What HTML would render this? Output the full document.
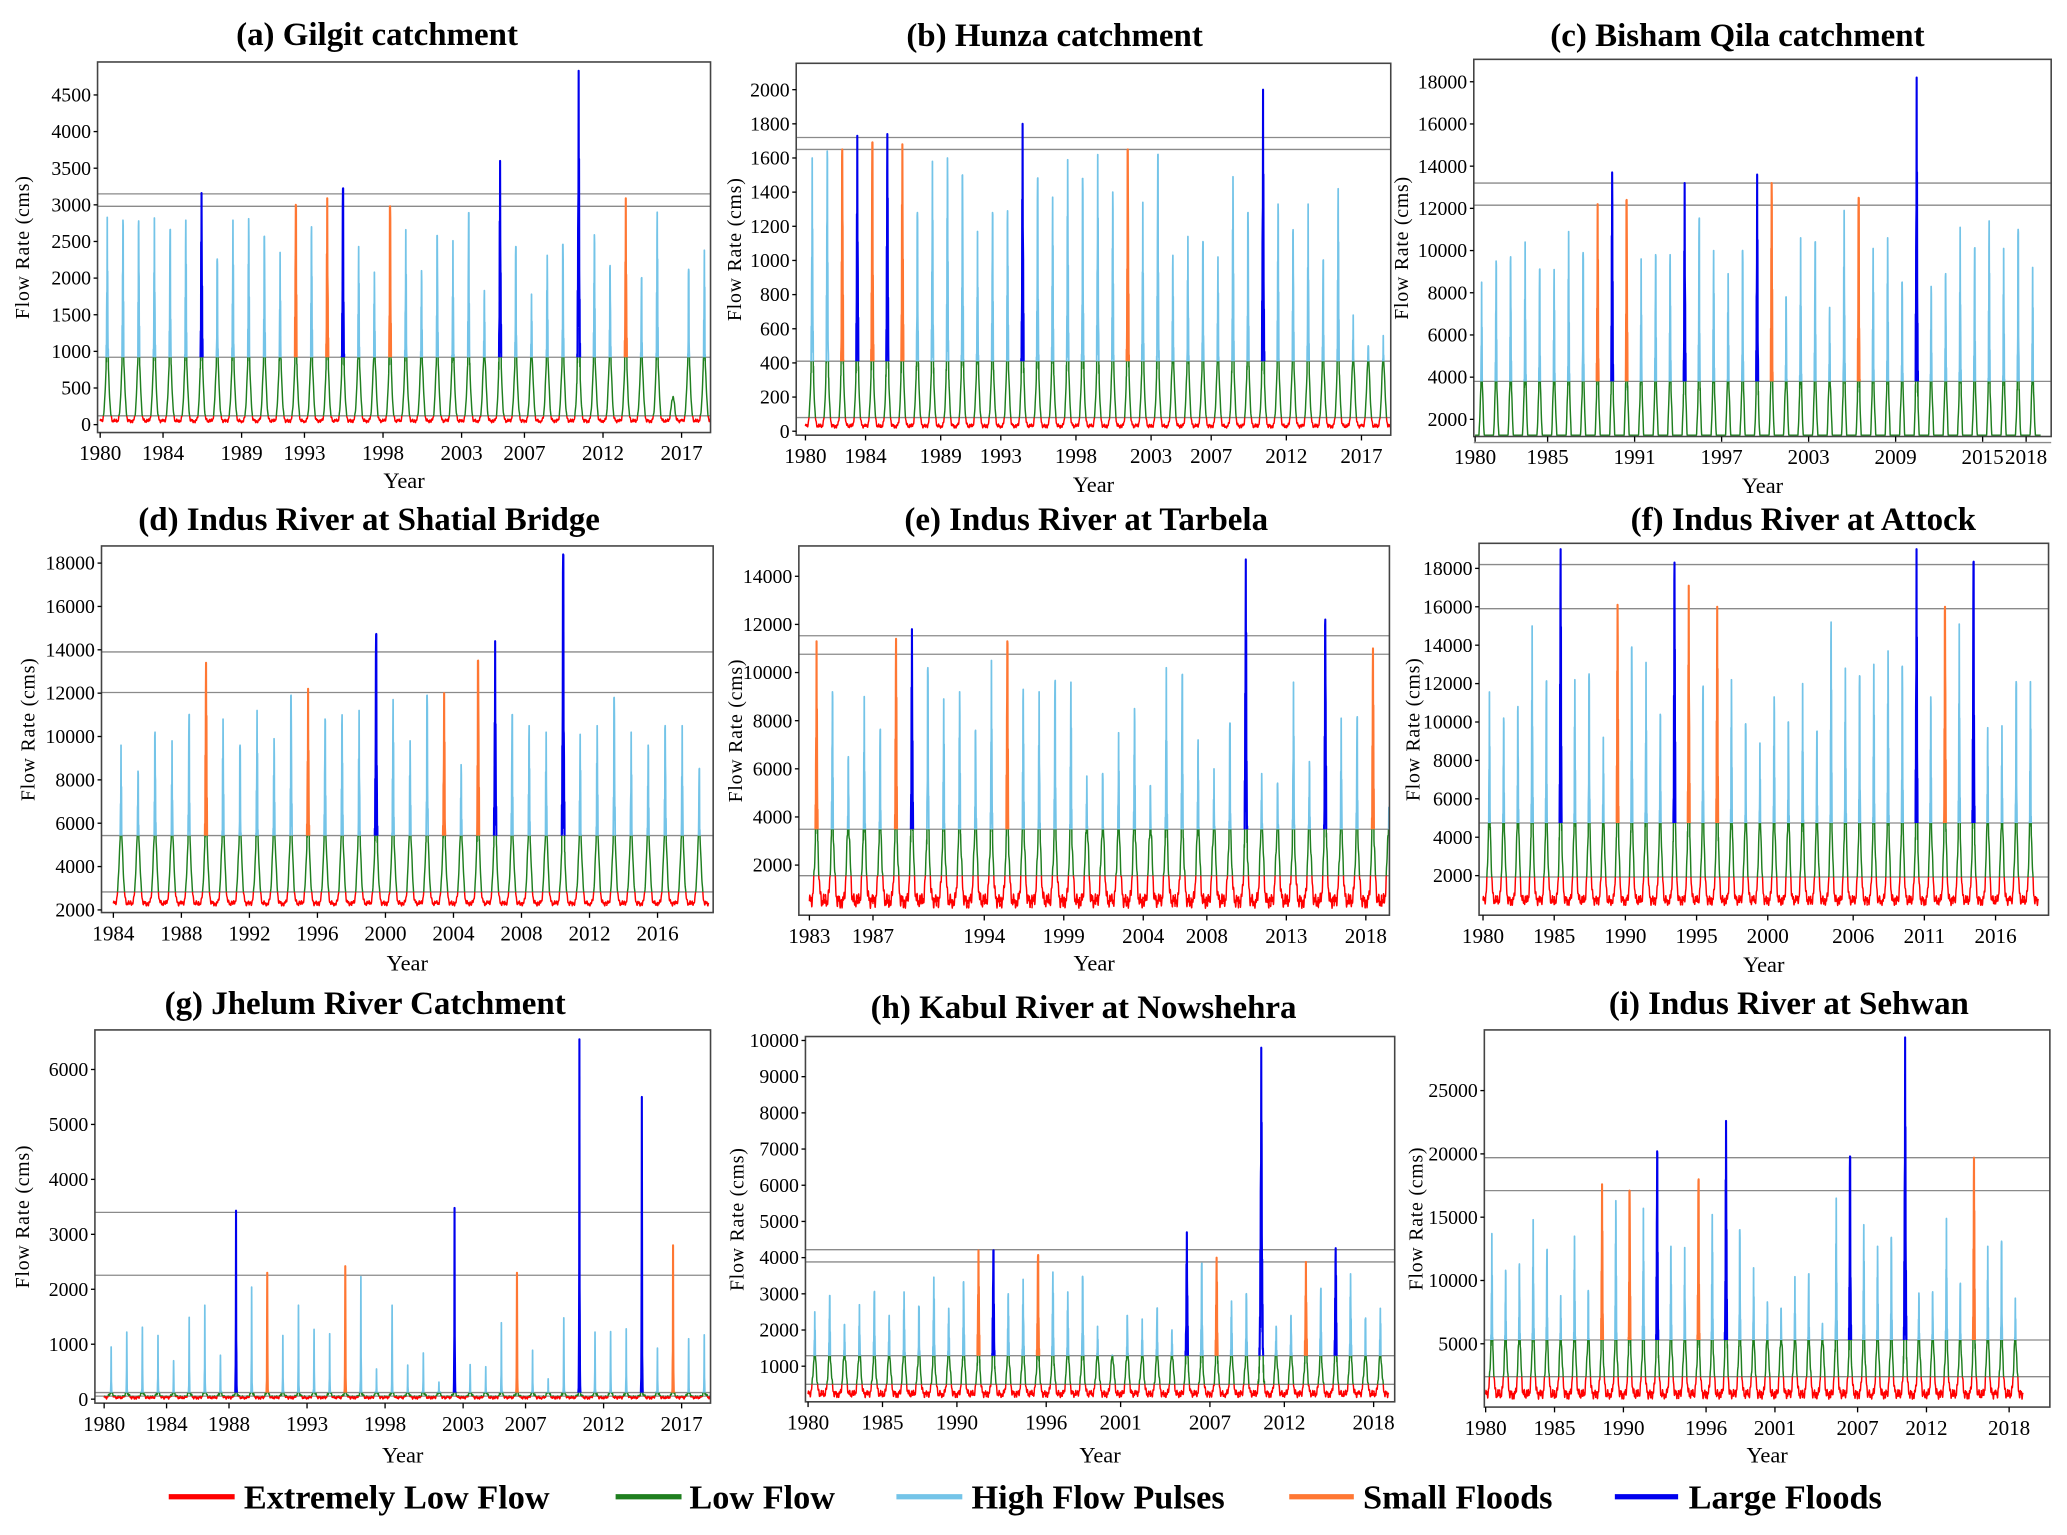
<!DOCTYPE html>
<html><head><meta charset="utf-8"><title>Flow regimes</title>
<style>
html,body{margin:0;padding:0;background:#fff;}
svg{display:block;}
text{font-family:"Liberation Serif",serif;fill:#000;}
</style></head>
<body>
<svg id="fig" xmlns="http://www.w3.org/2000/svg" width="2067" height="1535" viewBox="0 0 1568 1164" preserveAspectRatio="none">
<g id="legend">
 <g><line x1="128" y1="1135" x2="178" y2="1135" stroke="#ff0000" stroke-width="4"/><text x="185" y="1144" font-size="26" font-weight="bold">Extremely Low Flow</text></g>
 <g><line x1="467" y1="1135" x2="517" y2="1135" stroke="#1f7f1f" stroke-width="4"/><text x="523" y="1144" font-size="26" font-weight="bold">Low Flow</text></g>
 <g><line x1="680" y1="1135" x2="730" y2="1135" stroke="#74c4e8" stroke-width="4"/><text x="737" y="1144" font-size="26" font-weight="bold">High Flow Pulses</text></g>
 <g><line x1="978" y1="1135" x2="1027" y2="1135" stroke="#ff7733" stroke-width="4"/><text x="1034" y="1144" font-size="26" font-weight="bold">Small Floods</text></g>
 <g><line x1="1225" y1="1135" x2="1273" y2="1135" stroke="#0000ee" stroke-width="4"/><text x="1281" y="1144" font-size="26" font-weight="bold">Large Floods</text></g>
</g>
</svg>
<script>
// ---------- data (annual peak flows, cms; types: h=high pulse, s=small flood, l=large flood) ----------
const aPeaks=[2830,2790,2780,2820,2660,2790,3160,2260,2790,2810,2570,2350,3000,2700,3090,3220,2430,2080,2980,2660,2100,2580,2510,2890,1830,3600,2430,1780,2310,2460,4830,2590,2170,3090,2000,2900,380,2120,2380];
const aTypes="hhhhhhlhhhhhshslhhshhhhhhlhhhhlhhshhhhh";
const aThr=[3150,2980,920,120];
const aYTicks=[0,500,1000,1500,2000,2500,3000,3500,4000,4500];
const aXTicks=[1980,1984,1989,1993,1998,2003,2007,2012,2017];

const bPeaks=[1600,1640,1650,1730,1690,1740,1680,1280,1580,1600,1500,1170,1280,1290,1800,1480,1370,1590,1480,1620,1400,1650,1340,1620,1030,1140,1110,1020,1490,1280,2000,1330,1180,1330,1000,1420,680,500,560];
const bTypes="hhslslshhhhhhhlhhhhhhshhhhhhhhlhhhhhhhh";
const bThr=[1720,1650,410,80];
const bYTicks=[0,200,400,600,800,1000,1200,1400,1600,1800,2000];
const bXTicks=[1980,1984,1989,1993,1998,2003,2007,2012,2017];

const cPeaks=[8500,9500,9700,10400,9100,9100,10900,9900,12200,13700,12400,9600,9800,9800,13200,11500,10000,8900,10000,13600,13200,7800,10600,10400,7300,11900,12500,10100,10600,8500,18200,8300,8900,11100,10100,11400,10100,11000,9200];
const cTypes="hhhhhhhhslshhhlhhhhlshhhhhshhhlhhhhhhhh";
const cThr=[13200,12150,3800,900];
const cYTicks=[2000,4000,6000,8000,10000,12000,14000,16000,18000];
const cXTicks=[1980,1985,1991,1997,2003,2009,2015,2018];

const dPeaks=[9600,8400,10200,9800,11000,13400,10800,9600,11200,9900,11900,12200,10800,11000,11200,14700,11700,9800,11900,12000,8700,13500,14400,11000,10500,10200,18400,10100,10500,11800,10200,9600,10500,10500,8500];
const dTypes="hhhhhshhhhhshhhlhhhshslhhhlhhhhhhhh";
const dThr=[13900,12030,5430,2830];
const dYTicks=[2000,4000,6000,8000,10000,12000,14000,16000,18000];
const dXTicks=[1984,1988,1992,1996,2000,2004,2008,2012,2016];

const ePeaks=[11300,9200,6500,9000,7600,11400,11800,10200,8900,9200,7600,10500,11300,9300,9200,9600,9600,5700,5800,7500,8500,5300,10200,9900,7200,6000,7900,14700,5800,5400,9600,6300,12200,8100,8100,11000,4400];
const eTypes="shhhhslhhhhhshhhhhhhhhhhhhhlhhhhlhhsh";
const eThr=[11530,10760,3490,1560];
const eYTicks=[2000,4000,6000,8000,10000,12000,14000];
const eXTicks=[1983,1987,1994,1999,2004,2008,2013,2018];

const fPeaks=[11560,10200,10800,15000,12100,19000,12200,12500,9200,16100,13900,13100,10400,18300,17100,11800,16000,12200,9900,8900,11300,10000,12000,9500,15200,12800,12400,13000,13700,12900,19000,11300,16000,15100,18300,9700,9800,12100,12100];
const fTypes="hhhhhlhhhshhhlshshhhhhhhhhhhhhlhshlhhhh";
const fThr=[18200,15900,4740,1930];
const fYTicks=[2000,4000,6000,8000,10000,12000,14000,16000,18000];
const fXTicks=[1980,1985,1990,1995,2000,2006,2011,2016];

const gPeaks=[950,1220,1310,1160,700,1490,1710,800,3430,2040,2300,1160,1710,1270,1190,2420,2230,550,1710,620,840,310,3480,630,590,1390,2300,890,370,1480,6550,1220,1230,1280,5500,930,2800,1100,1170];
const gTypes="hhhhhhhhlhshhhhshhhhhhlhhhshhhlhhhlhshh";
const gThr=[3400,2255,120,55];
const gYTicks=[0,1000,2000,3000,4000,5000,6000];
const gXTicks=[1980,1984,1988,1993,1998,2003,2007,2012,2017];

const hPeaks=[2500,2950,2150,2700,3050,2400,3050,2650,3460,2600,3330,4200,4200,3000,3400,4050,3600,3050,3480,2100,1300,2400,2300,2600,2000,4700,3840,4000,2800,3000,9800,2100,2400,3880,3130,4260,3550,2300,2600];
const hTypes="hhhhhhhhhhhslhhshhhhhhhhhlhshhlhhshlhhh";
const hThr=[4220,3880,1290,500];
const hYTicks=[1000,2000,3000,4000,5000,6000,7000,8000,9000,10000];
const hXTicks=[1980,1985,1990,1996,2001,2007,2012,2018];

const iPeaks=[13700,10800,11300,14800,12400,8800,13500,9200,17600,16300,17100,15700,20200,12700,12600,17900,15200,22600,14000,11000,8300,7800,10300,10500,6600,16500,19800,14400,12700,13400,29200,9000,9100,14900,9700,19700,12700,13100,8600];
const iTypes="hhhhhhhhshshlhhshlhhhhhhhhlhhhlhhhhshhh";
const iThr=[19700,17100,5300,2400];
const iYTicks=[5000,10000,15000,20000,25000];
const iXTicks=[1980,1985,1990,1996,2001,2007,2012,2018];

// ---------- layout / style (preview units) ----------
const panels=[
 {id:'a',title:'(a) Gilgit catchment',tx:286,ty:34,box:[74,47,539,328],yr:[0,322,4500,72],xr:[1980,76,11.92],start:1980,peaks:aPeaks,types:aTypes,thr:aThr,yt:aYTicks,xt:aXTicks,base:50,noise:25,yl:22,yearY:370,sw:0.05},
 {id:'b',title:'(b) Hunza catchment',tx:800,ty:35,box:[604,48,1055,330],yr:[0,327,2000,68],xr:[1980,611,11.4],start:1980,peaks:bPeaks,types:bTypes,thr:bThr,yt:bYTicks,xt:bXTicks,base:30,noise:12,yl:562,yearY:373,sw:0.05},
 {id:'c',title:'(c) Bisham Qila catchment',tx:1318,ty:35,box:[1118,45,1556,331],yr:[2000,318,18000,62],xr:[1980,1119,11.0],start:1980,peaks:cPeaks,types:cTypes,thr:cThr,yt:cYTicks,xt:cXTicks,base:350,noise:150,yl:1068,yearY:374,sw:0.05},
 {id:'d',title:'(d) Indus River at Shatial Bridge',tx:280,ty:402,box:[77,414,541,692],yr:[2000,690,18000,427],xr:[1984,86,12.9],start:1984,peaks:dPeaks,types:dTypes,thr:dThr,yt:dYTicks,xt:dXTicks,base:2300,noise:120,yl:26,yearY:736,sw:0.05},
 {id:'e',title:'(e) Indus River at Tarbela',tx:824,ty:402,box:[606,414,1054,694],yr:[2000,656,14000,437],xr:[1983,614,12.06],start:1983,peaks:ePeaks,types:eTypes,thr:eThr,yt:eYTicks,xt:eXTicks,base:500,noise:300,yl:563,yearY:736,sw:0.05},
 {id:'f',title:'(f) Indus River at Attock',tx:1368,ty:402,box:[1122,412,1554,694],yr:[2000,664,18000,431],xr:[1980,1125,10.8],start:1980,peaks:fPeaks,types:fTypes,thr:fThr,yt:fYTicks,xt:fXTicks,base:700,noise:260,yl:1077,yearY:737,sw:0.05},
 {id:'g',title:'(g) Jhelum River Catchment',tx:277,ty:769,box:[72,781,539,1064],yr:[0,1061,6000,811],xr:[1980,79,11.84],start:1980,peaks:gPeaks,types:gTypes,thr:gThr,yt:gYTicks,xt:gXTicks,base:30,noise:30,yl:22,yearY:1109,sw:0.015},
 {id:'h',title:'(h) Kabul River at Nowshehra',tx:822,ty:772,box:[611,786,1058,1063],yr:[1000,1036,10000,789],xr:[1980,613,11.29],start:1980,peaks:hPeaks,types:hTypes,thr:hThr,yt:hYTicks,xt:hXTicks,base:230,noise:100,yl:564,yearY:1109,sw:0.055},
 {id:'i',title:'(i) Indus River at Sehwan',tx:1357,ty:769,box:[1126,781,1555,1067],yr:[5000,1019,25000,827],xr:[1980,1127,10.45],start:1980,peaks:iPeaks,types:iTypes,thr:iThr,yt:iYTicks,xt:iXTicks,base:1000,noise:380,yl:1079,yearY:1109,sw:0.05}
];
const COL={h:'#74c4e8',s:'#ff7733',l:'#0000ee',green:'#1f7f1f',red:'#ff0000'};
const NS='http://www.w3.org/2000/svg';
const svg=document.getElementById('fig');
function mk(tag,attrs,parent){const e=document.createElementNS(NS,tag);for(const k in attrs)e.setAttribute(k,attrs[k]);(parent||svg).appendChild(e);return e;}

panels.forEach(p=>{
 const [x0,y0,x1,y1]=p.box;
 const yS=v=>p.yr[1]+(v-p.yr[0])*(p.yr[3]-p.yr[1])/(p.yr[2]-p.yr[0]);
 const xS=yr=>p.xr[1]+(yr-p.xr[0])*p.xr[2];
 const g=mk('g',{});
 
 
 const t=mk('text',{x:p.tx,y:p.ty,'font-size':25,'font-weight':'bold','text-anchor':'middle'},g);
 t.textContent=p.title;
 
 
 const defs=mk('defs',{},g);
 const bands={hi:[y0,yS(p.thr[2])],lo:[yS(p.thr[2]),yS(p.thr[3])],ex:[yS(p.thr[3]),y1]};
 for(const k in bands){
  const cp=mk('clipPath',{id:'clip-'+p.id+'-'+k},defs);
  mk('rect',{x:x0,y:bands[k][0],width:x1-x0,height:Math.max(0,bands[k][1]-bands[k][0])},cp);
 }
 p.thr.forEach((v,k)=>{
  const l=mk('line',{x1:x0,x2:x1,y1:yS(v),y2:yS(v),stroke:'#8a8a8a','stroke-width':1},g);
  
  
 });
 const N=80, KP=36; // peak sample at t=0.45
 const yearPaths=[];let full='';
 p.peaks.forEach((P,i)=>{
  let d='';
  const broadTop=Math.min(P,p.thr[2]*1.05);
  for(let k=0;k<=N;k++){
   const tt=k/N;
   const dt=tt-KP/N;
   const broad=(broadTop-p.base)*Math.exp(-Math.pow(dt/0.15,2));
   const wob=(k===KP)?1:1+0.3*Math.sin(k*3.7+i*2.3);
   const spike=(P-p.base)*Math.exp(-Math.abs(dt)/p.sw)*wob;
   let v=p.base+Math.max(broad,Math.min(spike,P-p.base));
   if(k!==KP) v+=p.noise*0.5*(Math.sin(i*12.9+k*0.9)+Math.sin(k*0.37+i*1.7))*(v<p.thr[2]?1:0.3);
   const px=xS(p.start+i+tt), py=Math.min(yS(v),y1-1);
   d+=(k===0?'M':'L')+px.toFixed(2)+' '+py.toFixed(2);
  }
  yearPaths.push({d,type:p.types[i]||'h'});
  full+=d;
 });
 const series=mk('g',{fill:'none','stroke-width':1.1,'stroke-linejoin':'round'},g);
 
 
 const ex=mk('path',{d:full,stroke:COL.red,'clip-path':'url(#clip-'+p.id+'-ex)'},series);
 
 
 const lo=mk('path',{d:full,stroke:COL.green,'clip-path':'url(#clip-'+p.id+'-lo)'},series);
 
 
 const hiG=mk('g',{'clip-path':'url(#clip-'+p.id+'-hi)'},series);
 
 
 yearPaths.forEach((yp,i)=>{
  const e=mk('path',{d:yp.d,stroke:COL[yp.type],'stroke-width':yp.type==='h'?1.3:1.6},hiG);
  
  
 });
 const fr=mk('rect',{x:x0,y:y0,width:x1-x0,height:y1-y0,fill:'none',stroke:'#444','stroke-width':1.2},g);
 
 
 p.yt.forEach(v=>{
  const yy=yS(v);
  mk('line',{x1:x0-3,x2:x0,y1:yy,y2:yy,stroke:'#000','stroke-width':1},g);
  const lt=mk('text',{x:x0-5,y:yy+5,'font-size':15,'text-anchor':'end'},g);
  lt.textContent=v;
  
  
 });
 p.xt.forEach(v=>{
  const xx=xS(v);
  mk('line',{x1:xx,x2:xx,y1:y1,y2:y1+4,stroke:'#000','stroke-width':1},g);
  const lt=mk('text',{x:xx,y:y1+21,'font-size':16,'text-anchor':'middle'},g);
  lt.textContent=v;
  
  
 });
 const yt=mk('text',{x:p.yl,y:(y0+y1)/2,'font-size':15,'text-anchor':'middle','letter-spacing':0.6,transform:'rotate(-90 '+p.yl+' '+((y0+y1)/2)+')'},g);
 yt.textContent='Flow Rate (cms)';
 
 
 const xt=mk('text',{x:(x0+x1)/2,y:p.yearY,'font-size':17,'text-anchor':'middle'},g);
 xt.textContent='Year';
 
 
});
</script>
</body></html>
